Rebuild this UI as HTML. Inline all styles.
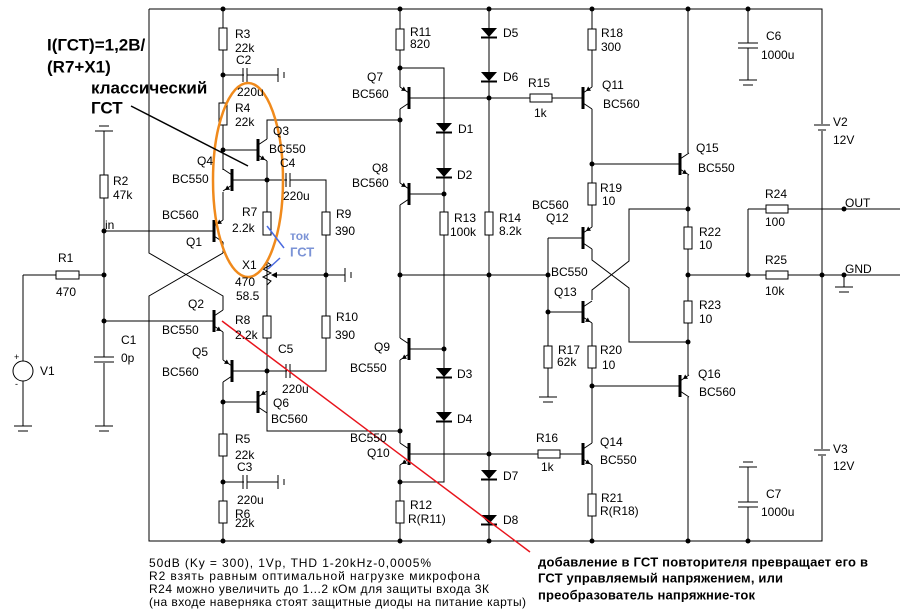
<!DOCTYPE html>
<html><head><meta charset="utf-8"><style>
html,body{margin:0;padding:0;background:#fff;}
svg{display:block;}
text{font-family:"Liberation Sans","DejaVu Sans",sans-serif;}
</style></head><body>
<svg id="s" width="900" height="614" viewBox="0 0 900 614" xmlns="http://www.w3.org/2000/svg">
<g id="w" fill="none" stroke="#000" stroke-width="1"></g>
<g id="c"></g>
<g id="t" font-size="12" fill="#000"></g>
</svg>
<script>
const NS="http://www.w3.org/2000/svg";
const W=document.getElementById('w'),C=document.getElementById('c'),T=document.getElementById('t');
function el(p,tag,a){const e=document.createElementNS(NS,tag);for(const k in a)e.setAttribute(k,a[k]);p.appendChild(e);return e;}
function path(d,extra){el(W,'path',Object.assign({d:d},extra||{}));}
function dot(x,y){el(C,'circle',{cx:x,cy:y,r:2.5,fill:'#000'});}
function rv(x,y1,y2){el(C,'rect',{x:x-4,y:y1,width:8,height:y2-y1,fill:'#fff',stroke:'#000'});}
function rh(y,x1,x2){el(C,'rect',{x:x1,y:y-4,width:x2-x1,height:8,fill:'#fff',stroke:'#000'});}
function diode(x,y){el(C,'polygon',{points:`${x-8},${y-5} ${x+8},${y-5} ${x},${y+4}`,fill:'#000'});el(C,'line',{x1:x-8,y1:y+4.5,x2:x+8,y2:y+4.5,stroke:'#000','stroke-width':2});}
function tr(bx,cy,dir,emTop,pnp){
 el(C,'line',{x1:bx,y1:cy-11,x2:bx,y2:cy+11,stroke:'#000','stroke-width':3});
 const lx=bx+9*dir;
 path(`M${bx},${cy-5}L${lx},${cy-11}M${bx},${cy+5}L${lx},${cy+11}`);
 let ang=Math.atan2((emTop?-6:6),9*dir);
 if(pnp) ang+=Math.PI;
 const px=pnp? bx+3*dir: lx-2*dir, py=pnp? (emTop?cy-7:cy+7):(emTop?cy-10:cy+10);
 const a1=ang+2.6,a2=ang-2.6,L=5;
 el(C,'polygon',{points:`${px},${py} ${px+L*Math.cos(a1)},${py+L*Math.sin(a1)} ${px+L*Math.cos(a2)},${py+L*Math.sin(a2)}`,fill:'#000'});
}
function capH(y,x){el(C,'line',{x1:x,y1:y-7,x2:x,y2:y+7,stroke:'#000'});el(C,'line',{x1:x+4,y1:y-7,x2:x+4,y2:y+7,stroke:'#000'});el(C,'rect',{x:x+1,y:y-1,width:2.5,height:2,fill:'#fff'});}
function capV(x,y){el(C,'rect',{x:x-10,y:y+0.5,width:20,height:4,fill:'#fff'});el(C,'line',{x1:x-10,y1:y,x2:x+10,y2:y,stroke:'#000'});el(C,'line',{x1:x-10,y1:y+5,x2:x+10,y2:y+5,stroke:'#000'});}
function gndR(x,y){el(C,'line',{x1:x,y1:y-7,x2:x,y2:y+7,stroke:'#000'});el(C,'line',{x1:x+6,y1:y-3,x2:x+6,y2:y+3,stroke:'#000'});}
function gndD(x,y){el(C,'line',{x1:x-9,y1:y,x2:x+9,y2:y,stroke:'#000'});el(C,'line',{x1:x-5,y1:y+5,x2:x+5,y2:y+5,stroke:'#000'});}
function gndU(x,y){el(C,'line',{x1:x-9,y1:y,x2:x+9,y2:y,stroke:'#000'});el(C,'line',{x1:x-5,y1:y-5,x2:x+5,y2:y-5,stroke:'#000'});}
function tx(x,y,s,extra){const e=el(T,'text',Object.assign({x:x,y:y,'dominant-baseline':'central'},extra||{}));e.textContent=s;return e;}

path('M149,9H822V541H149V296L223,253M149,9V253L223,296V310');
path('M223,9V170M223,192V220M223,242V253M223,332V360M223,382V541');
path('M223,150H258M267,139V120H400M267,161V235M267,262V316M267,338V413V431H400');
path('M232,180H326V275M232,371H326V338M326,316V275H272M326,275H345');
path('M223,402H258M223,75H278M223,482H278');
path('M104,131V357M104,363V426M104,231H214M104,321H214M23,275H104M23,275V361M23,381V426');
path('M267,262L271,265L263,269L271,273L263,277L271,281L267,285');
el(C,'polygon',{points:'271,275 277,272 277,278',fill:'#000'});
path('M400,9V87M400,109V183M400,205V338M400,360V443M400,465V541');
path('M400,68H444V193V349V482H400M409,194H444M409,349H444');
path('M489,9V541M409,98H583M409,454H583');
path('M400,275H548M548,238H583M548,238V397M548,312H583');
path('M592,9V87M592,109V227M592,249V260L629,288V342H688M592,300V290L629,261V209H688M592,323V443M592,465V541');
path('M592,164H680M592,386H680M688,9V153M688,175V375M688,397V541');
path('M688,275H900M748,209H900M748,209V275M748,9V80M748,467V541M822,9V541');
rv(223,28,50);rv(223,103,125);rv(223,434,456);rv(223,501,523);
rv(267,212,235);rv(267,316,338);rv(326,212,235);rv(326,316,338);rv(104,175,198);
rh(275,56,79);
tr(258,150,1,false,false);tr(232,180,-1,false,false);tr(214,231,1,true,true);
tr(214,321,1,false,false);tr(232,371,-1,true,true);tr(258,402,1,true,true);
capH(75,243);capH(482,243);capH(180,286);capH(371,286);
gndR(278,75);gndR(278,482);gndR(345,275);
capV(104,357);gndU(104,131);gndD(104,426);gndD(23,426);
el(C,'circle',{cx:23,cy:371,r:10,fill:'#fff',stroke:'#000'});
path('M16,372Q19,366 23,371T30,370');
tx(14,357,'+',{'font-size':'9'});tx(15,384,'-',{'font-size':'9'});
rv(400,29,50);rv(400,501,523);rv(444,212,235);rv(489,212,235);
rh(98,530,552);rh(454,538,560);
diode(444,128);diode(444,173);diode(444,373);diode(444,417);
diode(489,33);diode(489,77);diode(489,475);diode(489,520);
tr(409,98,-1,true,true);tr(409,194,-1,true,true);tr(409,349,-1,false,false);tr(409,454,-1,false,false);
rv(592,29,50);rv(592,183,205);rv(592,346,368);rv(592,494,516);rv(548,346,368);
rv(688,227,249);rv(688,301,323);
rh(209,766,788);rh(275,766,788);
tr(583,98,1,true,true);tr(583,238,1,true,true);tr(583,312,1,false,false);tr(583,454,1,false,false);
tr(680,164,1,false,false);tr(680,386,1,true,true);
capV(748,43);gndD(748,80);capV(748,502);gndU(748,467);gndD(548,397);gndD(844,287);
path('M844,275V287');
el(C,'rect',{x:812,y:124,width:20,height:7,fill:'#fff'});
el(C,'line',{x1:814,y1:125,x2:830,y2:125,stroke:'#000'});el(C,'line',{x1:818,y1:130,x2:826,y2:130,stroke:'#000'});
el(C,'rect',{x:812,y:449,width:20,height:7,fill:'#fff'});
el(C,'line',{x1:814,y1:450,x2:830,y2:450,stroke:'#000'});el(C,'line',{x1:818,y1:455,x2:826,y2:455,stroke:'#000'});
[[223,9],[400,9],[489,9],[592,9],[688,9],[748,9],[223,541],[400,541],[489,541],[592,541],[688,541],[748,541],
[223,75],[223,150],[267,180],[326,275],[104,231],[104,275],[104,321],[267,371],[223,402],[223,482],
[400,68],[400,120],[444,194],[400,275],[444,349],[400,431],[489,98],[489,275],[489,454],[400,482],
[548,275],[548,312],[592,164],[592,386],[688,209],[688,275],[688,342],[748,275],[822,275],[844,209],[844,275]].forEach(p=>dot(p[0],p[1]));
el(C,'ellipse',{cx:248,cy:180,rx:35,ry:97,fill:'none',stroke:'#f08a1c','stroke-width':2.5});
el(C,'line',{x1:131,y1:106,x2:248,y2:166,stroke:'#000','stroke-width':1.5});
el(C,'line',{x1:267,y1:226,x2:284,y2:248,stroke:'#4a6ae0','stroke-width':1.5});
el(C,'line',{x1:280,y1:258,x2:268,y2:269,stroke:'#4a6ae0','stroke-width':1.5});
el(C,'line',{x1:222,y1:321,x2:530,y2:552,stroke:'#e8141c','stroke-width':1.5});

const L=[[235,34,'R3'],[235,48,'22k'],[236,60,'C2'],[237,92,'220u'],[235,108,'R4'],[235,122,'22k'],[273,131,'Q3'],[269,149,'BC550'],[280,163,'C4'],[283,196,'220u'],
[197,161,'Q4'],[172,179,'BC550'],[162,215,'BC560'],[186,242,'Q1'],[242,212,'R7'],[232,228,'2.2k'],[336,214,'R9'],[335,231,'390'],[242,265,'X1'],[235,282,'470'],[236,296,'58.5'],
[113,181,'R2'],[113,195,'47k'],[105,225,'in'],[58,258,'R1'],[56,292,'470'],[188,304,'Q2'],[162,330,'BC550'],[235,320,'R8'],[235,335,'2.2k'],[336,317,'R10'],[335,335,'390'],
[278,349,'C5'],[192,352,'Q5'],[162,372,'BC560'],[121,340,'C1'],[121,358,'0p'],[40,371,'V1'],[282,389,'220u'],[273,403,'Q6'],[271,419,'BC560'],
[235,439,'R5'],[235,455,'22k'],[237,467,'C3'],[237,500,'220u'],[235,514,'R6'],[235,523,'22k'],
[410,32,'R11'],[410,44,'820'],[367,77,'Q7'],[352,94,'BC560'],[503,33,'D5'],[503,77,'D6'],[528,83,'R15'],[534,113,'1k'],[458,129,'D1'],[457,175,'D2'],
[372,168,'Q8'],[352,183,'BC560'],[454,218,'R13'],[450,232,'100k'],[499,218,'R14'],[499,231,'8.2k'],[374,347,'Q9'],[350,368,'BC550'],[457,374,'D3'],[457,419,'D4'],
[350,438,'BC550'],[367,453,'Q10'],[410,505,'R12'],[408,519,'R(R11)'],[503,476,'D7'],[503,520,'D8'],[536,438,'R16'],[541,467,'1k'],
[601,33,'R18'],[601,47,'300'],[602,85,'Q11'],[603,104,'BC560'],[696,148,'Q15'],[698,168,'BC550'],[600,188,'R19'],[602,201,'10'],[532,205,'BC560'],[546,218,'Q12'],
[699,232,'R22'],[699,245,'10'],[551,272,'BC550'],[554,292,'Q13'],[699,305,'R23'],[699,319,'10'],[558,350,'R17'],[557,362,'62k'],[600,350,'R20'],[602,365,'10'],
[698,374,'Q16'],[699,392,'BC560'],[600,442,'Q14'],[600,460,'BC550'],[601,498,'R21'],[600,511,'R(R18)'],[766,36,'C6'],[761,55,'1000u'],[833,122,'V2'],[833,140,'12V'],
[765,194,'R24'],[765,222,'100'],[845,203,'OUT'],[765,260,'R25'],[765,291,'10k'],[845,269,'GND'],[833,449,'V3'],[833,466,'12V'],[766,494,'C7'],[761,512,'1000u']];
L.forEach(a=>tx(a[0],a[1],a[2]));
const B={'font-weight':'bold','font-size':'17'};
tx(47,45,'I(ГСТ)=1,2В/',B);
tx(47,67,'(R7+X1)',B);
tx(91,88,'классический',B);
tx(91,108,'ГСТ',B);
tx(290,236,'ток',{'font-weight':'bold','font-size':'12',fill:'#7b93d6'});
tx(290,252,'ГСТ',{'font-weight':'bold','font-size':'13',fill:'#7b93d6'});
const n={'font-size':'12'};
tx(149,563,'50dB (Ky = 300), 1Vp, THD 1-20kHz-0,0005%',Object.assign({textLength:282},n));
tx(149,576,'R2 взять равным оптимальной нагрузке микрофона',Object.assign({textLength:331},n));
tx(149,589,'R24 можно увеличить до 1...2 кОм для защиты входа 3К',Object.assign({textLength:340},n));
tx(149,602,'(на входе наверняка стоят защитные диоды на питание карты)',Object.assign({textLength:377},n));
const r={'font-weight':'bold','font-size':'13'};
tx(538,562,'добавление в ГСТ повторителя превращает его в',Object.assign({textLength:330},r));
tx(538,578,'ГСТ управляемый напряжением, или',Object.assign({textLength:245},r));
tx(538,595,'преобразователь напряжние-ток',Object.assign({textLength:217},r));
</script>
</body></html>
